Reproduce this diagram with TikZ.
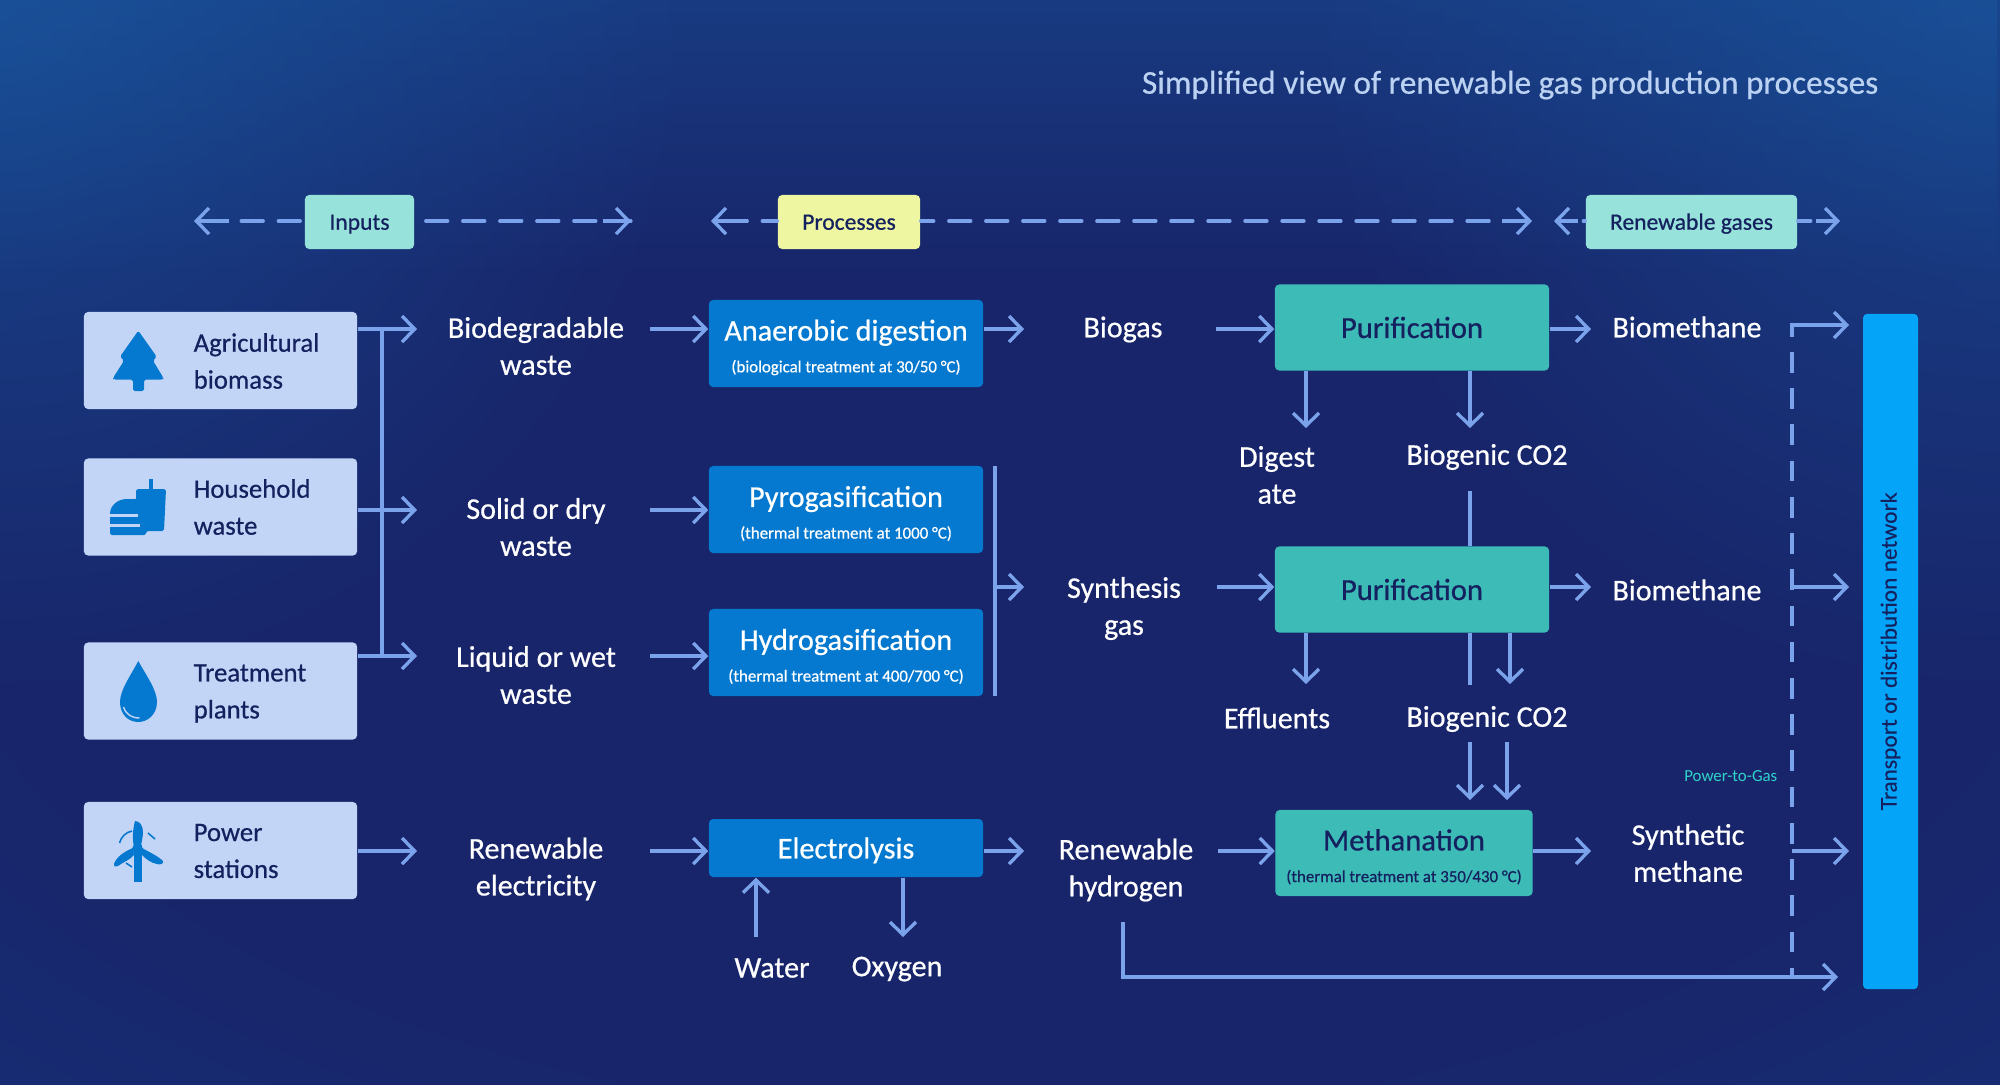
\documentclass[tikz,border=0pt]{standalone}
\usepackage{fontspec}
\setmainfont{Carlito}
\newfontfamily\medfont{Carlito}[FakeBold=0.6]
\newfontfamily\barfont{Lato}[FakeBold=0.3]
\usetikzlibrary{arrows.meta}
\usetikzlibrary{fadings}
\definecolor{navy}{HTML}{18256A}
\definecolor{midnavy}{HTML}{16337C}
\definecolor{cornerblue}{HTML}{1A5CA4}
\definecolor{inkblue}{HTML}{14215E}
\definecolor{flowblue}{HTML}{7BA3EC}
\definecolor{inputfill}{HTML}{C3D5F7}
\definecolor{procfill}{HTML}{0579CF}
\definecolor{purifill}{HTML}{3DBBB7}
\definecolor{tagteal}{HTML}{98E2DC}
\definecolor{tagyellow}{HTML}{EEF6A2}
\definecolor{barblue}{HTML}{04A4F8}
\definecolor{titleblue}{HTML}{BCD2F2}
\definecolor{p2gteal}{HTML}{2FD3C8}
\pgfdeclareradialshading{bgfade}{\pgfpoint{0bp}{0bp}}{color(0bp)=(navy); color(26bp)=(navy); color(46bp)=(midnavy); color(70bp)=(cornerblue)}
\tikzfading[name=softglow, inner color=transparent!0, outer color=transparent!100]
\newcommand{\topline}{\rule{0pt}{8.2pt}}
\newcommand{\subline}[1]{\\[0pt]{\fontsize{4.8}{5}\selectfont #1}}

\begin{document}
\begin{tikzpicture}[x=0.01cm, y=-0.01cm, >={Straight Barb[length=3.6pt,width=7.4pt]},
    flow/.style = {->, draw=flowblue, line width=0.95pt},
    flowline/.style = {draw=flowblue, line width=0.95pt},
    dashflow/.style = {draw=flowblue, line width=0.95pt, line cap=round, dash pattern=on 0.22cm off 0.15cm},
    inbox/.style = {fill=inputfill, rounded corners=1.2pt, minimum width=2.73cm, minimum height=0.97cm},
    intext/.style = {anchor=west, inner sep=0pt, align=left, text=inkblue, font=\medfont\fontsize{7.6}{10.5}\selectfont},
    label/.style = {inner sep=0pt, align=center, text=white, font=\medfont\fontsize{8.55}{10.5}\selectfont},
    procbox/.style = {fill=procfill, rounded corners=1.2pt, minimum width=2.74cm, minimum height=0.87cm, inner sep=0pt, align=center, text=white, font=\medfont\fontsize{8.6}{9}\selectfont},
    purebox/.style = {fill=purifill, rounded corners=1.2pt, minimum width=2.74cm, minimum height=0.86cm, inner sep=0pt, align=center, text=inkblue, font=\medfont\fontsize{8.7}{9}\selectfont},
    tag/.style = {rounded corners=1.2pt, minimum height=0.54cm, inner sep=0pt, text=inkblue, text height=5.6pt, text depth=1.2pt, font=\medfont\fontsize{6.7}{7}\selectfont},
    icon/.style = {fill=procfill}
  ]
    % Background
    \clip (0,0) rectangle (2000,1084);
    \shade[shading=bgfade] (0,0) rectangle (2000,1084);
    \fill[cornerblue, fill opacity=0.4, path fading=south] (0,0) rectangle (2000,280);
    \fill[cornerblue, fill opacity=0.6, path fading=softglow] (-700,-700) rectangle (700,700);
    \fill[cornerblue, fill opacity=0.55, path fading=softglow] (1300,-700) rectangle (2700,700);

    \node[inner sep=0pt, text=titleblue, anchor=east, font=\medfont\fontsize{9.45}{10}\selectfont] (title) at (1879,85) {Simplified view of renewable gas production processes};

    % Column tags
    \node[tag, fill=tagteal, minimum width=1.09cm] (inputs) at (359.5,222) {Inputs};
    \node[tag, fill=tagyellow, minimum width=1.42cm] (processes) at (849,222) {Processes};
    \node[tag, fill=tagteal, minimum width=2.11cm] (gases) at (1691.5,222) {Renewable gases};
    \coordinate (ileft) at (194,221);
    \coordinate (iright) at (631,221);
    \coordinate (pleft) at (711,221);
    \coordinate (pright) at (1532,221);
    \coordinate (gleft) at (1554,221);
    \coordinate (gright) at (1840,221);
    \draw[dashflow, dash phase=0.33cm] (inputs.west |- ileft) -- (ileft);
    \draw[dashflow, dash phase=0.26cm] (inputs.east |- iright) -- (iright);
    \draw[dashflow, dash phase=0.07cm] (processes.west |- pleft) -- (pleft);
    \draw[dashflow, dash phase=0.09cm] (processes.east |- pright) -- (pright);
    \draw[dashflow, dash phase=0.2cm] (gases.west |- gleft) -- ([xshift=0.24cm]gleft);
    \draw[dashflow, dash phase=0.09cm] (gases.east |- gright) -- ([xshift=-0.24cm]gright);
    \draw[flow] ([xshift=-0.28cm]iright) -- (iright);
    \draw[flow] ([xshift=0.35cm]ileft) -- (ileft);
    \draw[flow] ([xshift=0.37cm]pleft) -- (pleft);
    \draw[flow] ([xshift=-0.3cm]pright) -- (pright);
    \draw[flow] ([xshift=0.24cm]gleft) -- (gleft);
    \draw[flow] ([xshift=-0.24cm]gright) -- (gright);

    % Inputs
    \node[inbox] (agri) at (220.5,360.5) {};
    \node[inbox] (house) at (220.5,507) {};
    \node[inbox] (plants) at (220.5,691) {};
    \node[inbox] (power) at (220.5,850.5) {};
    \node[intext] (agritxt) at (193,361) {Agricultural\\biomass};
    \node[intext] (housetxt) at (193,507) {Household\\waste};
    \node[intext] (plantstxt) at (193,693.5) {Treatment\\plants};
    \node[intext] (powertxt) at (193,851) {Power\\stations};

    % Icons
    \fill[icon, rounded corners=0.5pt] (138.3,330.7) -- (156.7,356.7) -- (153,360.7) -- (163.5,378) -- (163,379.5) -- (144,379.5) -- (144,391) -- (133,391) -- (133,379.5) -- (113.5,379.5) -- (113,378) -- (124,360.7) -- (120,356.7) -- cycle;
    \fill[icon] (149,479) rectangle (153,490);
    \fill[icon, rounded corners=0.5pt] (136,489) -- (166,489) -- (164,531) -- (146,531) -- (146,535) -- (110,535) -- (110,514) -- (136,500) -- cycle;
    \fill[icon] (110,514) .. controls (110,505) and (118,499) .. (127,499) -- (138,499) -- (138,514) -- cycle;
    \fill[inputfill] (108,514) rectangle (138,517);
    \fill[inputfill] (108,524) rectangle (140,527);
    \fill[icon] (138.3,661) .. controls (146,675) and (157,690) .. (157,702) .. controls (157,714) and (148,722) .. (138.3,722) .. controls (128,722) and (120,714) .. (120,702) .. controls (120,690) and (131,675) .. (138.3,661) -- cycle;
    \draw[inputfill, line width=0.4pt] (123.5,707) .. controls (125,713) and (131,718) .. (139.5,718);
    \fill[icon] (133.5,845) rectangle (142,882);
    \fill[icon] (134,847) .. controls (132,838) and (133,828) .. (135,821) .. controls (140,821) and (143,826) .. (143,832) .. controls (143,838) and (141,843) .. (141,848) -- cycle;
    \fill[icon] (133,848) .. controls (125,851) and (116,857) .. (114,864) .. controls (114,867) and (116,867) .. (118,866) .. controls (123,862) and (130,860) .. (134,855) -- cycle;
    \fill[icon] (142,848) .. controls (149,852) and (158,856) .. (163,861) .. controls (164,864) and (160,865) .. (157,864) .. controls (151,863) and (146,859) .. (142,855) -- cycle;
    \fill[icon] (137.5,849) circle (5.5);
    \draw[procfill, line width=0.45pt] (119.5,843) .. controls (121,837) and (126,832) .. (132,831);
    \draw[procfill, line width=0.45pt] (148,833) -- (155,839);
    \draw[procfill, line width=0.45pt] (126,863) -- (132,867);

    % Input labels
    \node[label] (biowaste) at (536,346) {Biodegradable\\waste};
    \node[label] (drywaste) at (536,527) {Solid or dry\\waste};
    \node[label] (wetwaste) at (536,675) {Liquid or wet\\waste};
    \node[label] (electricity) at (536,869) {Renewable\\electricity};

    \coordinate (a1) at (417,329);
    \coordinate (a2) at (417,510);
    \coordinate (a3) at (417,656);
    \coordinate (a4) at (417,851);
    \coordinate (bustop) at (382,329);
    \coordinate (busbot) at (382,656);
    \draw[flow] (agri.east |- a1) -- (a1);
    \draw[flow] (house.east |- a2) -- (a2);
    \draw[flow] (plants.east |- a3) -- (a3);
    \draw[flow] (power.east |- a4) -- (a4);
    \draw[flowline] (bustop) -- (busbot);

    % Processes
    \node[procbox] (digestion) at (846,343.5) {\topline Anaerobic digestion\subline{(biological treatment at 30/50 °C)}};
    \node[procbox] (pyro) at (846,509.5) {\topline Pyrogasification\subline{(thermal treatment at 1000 °C)}};
    \node[procbox] (hydro) at (846,652.5) {\topline Hydrogasification\subline{(thermal treatment at 400/700 °C)}};
    \node[procbox, minimum height=0.58cm] (electro) at (846,848) {\rule{0pt}{7.3pt}Electrolysis};

    \coordinate (b1) at (650,329);
    \coordinate (b2) at (650,510);
    \coordinate (b3) at (650,656);
    \coordinate (b4) at (650,851);
    \draw[flow] (b1) -- (digestion.west |- b1);
    \draw[flow] (b2) -- (pyro.west |- b2);
    \draw[flow] (b3) -- (hydro.west |- b3);
    \draw[flow] (b4) -- (electro.west |- b4);

    \node[label] (water) at (772,968) {Water};
    \node[label] (oxygen) at (897,969) {Oxygen};
    \coordinate (w1) at (756,937);
    \coordinate (o1) at (903,937);
    \draw[flow] (w1) -- (w1 |- electro.south);
    \draw[flow] (o1 |- electro.south) -- (o1);

    % Gases
    \node[label] (biogas) at (1123,329.5) {Biogas};
    \node[label] (syngas) at (1124,608.5) {Synthesis\\gas};
    \node[label] (hydrogen) at (1126,870) {Renewable\\hydrogen};
    \coordinate (c1) at (1024,329);
    \coordinate (c2) at (1024,587);
    \coordinate (c3) at (1024,851);
    \coordinate (synbot) at (995,696);
    \coordinate (syntop) at (995,466);
    \draw[flow] (digestion.east |- c1) -- (c1);
    \draw[flowline] (syntop) -- (synbot);
    \draw[flow] (syntop |- c2) -- (c2);
    \draw[flow] (electro.east |- c3) -- (c3);

    % Purification and methanation
    \node[purebox] (pure1) at (1412,327.5) {Purification};
    \node[purebox] (pure2) at (1412,589.5) {Purification};
    \node[purebox, minimum width=2.57cm] (metha) at (1404,853) {\topline Methanation\subline{(thermal treatment at 350/430 °C)}};

    \coordinate (d1) at (1216,329);
    \coordinate (d2) at (1217,587);
    \coordinate (d3) at (1218,851);
    \draw[flow] (d1) -- (pure1.west |- d1);
    \draw[flow] (d2) -- (pure2.west |- d2);
    \draw[flow] (d3) -- (metha.west |- d3);

    \node[label] (digestate) at (1277,475) {Digest\\ate};
    \node[label] (co2a) at (1487,457) {Biogenic CO2};
    \node[label] (effluents) at (1277,718) {Effluents};
    \node[label] (co2b) at (1487,719) {Biogenic CO2};

    \coordinate (e1) at (1306,428);
    \coordinate (e2) at (1470,428);
    \coordinate (e3) at (1470,491);
    \coordinate (e4) at (1306,684);
    \coordinate (e5) at (1470,685);
    \coordinate (e6) at (1510,684);
    \coordinate (e7) at (1470,742);
    \coordinate (e8) at (1507,742);
    \coordinate (e9) at (1470,800);
    \coordinate (e10) at (1507,800);
    \draw[flow] (e1 |- pure1.south) -- (e1);
    \draw[flow] (e2 |- pure1.south) -- (e2);
    \draw[flowline] (e3) -- (e3 |- pure2.north);
    \draw[flow] (e4 |- pure2.south) -- (e4);
    \draw[flowline] (e5 |- pure2.south) -- (e5);
    \draw[flow] (e6 |- pure2.south) -- (e6);
    \draw[flow] (e7) -- (e9);
    \draw[flow] (e8) -- (e10);

    % Outputs
    \node[label] (meth1) at (1687,327) {Biomethane};
    \node[label] (meth2) at (1687,590) {Biomethane};
    \node[label] (synth) at (1688,853) {Synthetic\\methane};
    \node[inner sep=0pt, anchor=east, text=p2gteal, font=\fontsize{4.8}{6}\selectfont] (p2g) at (1778,776) {Power-to-Gas};

    \coordinate (f1) at (1591,329);
    \coordinate (f2) at (1591,587);
    \coordinate (f3) at (1591,851);
    \draw[flow] (pure1.east |- f1) -- (f1);
    \draw[flow] (pure2.east |- f2) -- (f2);
    \draw[flow] (metha.east |- f3) -- (f3);

    % Network bar
    \node[fill=barblue, rounded corners=1.2pt, minimum width=6.75cm, minimum height=0.55cm, inner sep=0pt, rotate=90, text=inkblue, font=\barfont\fontsize{6.2}{7}\selectfont] (network) at (1890.5,651.5) {Transport or distribution network};

    \coordinate (g1) at (1849,325);
    \coordinate (g2) at (1849,587);
    \coordinate (g3) at (1849,851);
    \coordinate (g4) at (1838,977);
    \coordinate (corner) at (1792,325);
    \coordinate (dashtop) at (1792,352);
    \coordinate (dashbot) at (1792,977);
    \coordinate (elbowend) at (1792,337);
    \coordinate (h2start) at (1123,922);
    \draw[flow] (elbowend) -- (corner) -- (g1);
    \draw[dashflow, line cap=butt, dash pattern=on 0.207cm off 0.155cm] (dashtop) -- (dashbot);
    \draw[flow] (corner |- g2) -- (g2);
    \draw[flow] (corner |- g3) -- (g3);
    \draw[flow] (h2start) -- (h2start |- g4) -- (g4);
\end{tikzpicture}
\end{document}
